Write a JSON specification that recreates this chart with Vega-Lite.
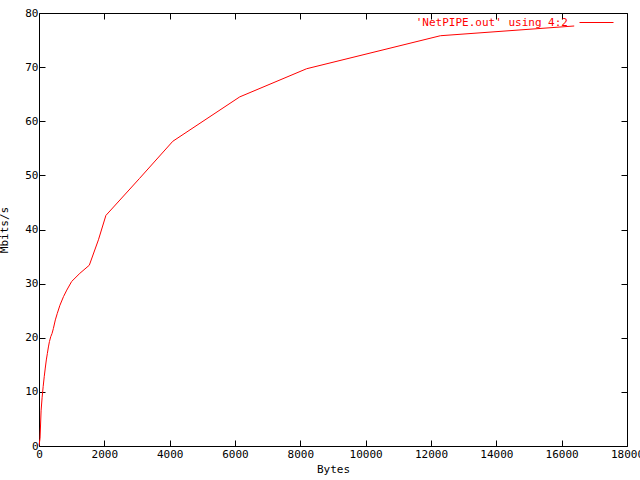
{
  "$schema": "https://vega.github.io/schema/vega-lite/v6.json",
  "width": 588,
  "height": 433,
  "autosize": {"type": "none"},
  "padding": {"left": 39, "top": 13, "right": 13, "bottom": 34},
  "background": "white",
  "config": {
    "view": {"stroke": "black", "strokeWidth": 1},
    "font": "DejaVu Sans Mono",
    "axis": {
      "domain": false,
      "grid": false,
      "tickColor": "black",
      "tickSize": -6,
      "tickWidth": 1,
      "labelColor": "black",
      "labelFont": "DejaVu Sans Mono",
      "labelFontSize": 11,
      "titleFont": "DejaVu Sans Mono",
      "titleFontSize": 11,
      "titleFontWeight": "normal",
      "titleColor": "black"
    }
  },
  "data": {
    "values": [
      {"bytes": 1, "mbps": 0.1},
      {"bytes": 32, "mbps": 1.4},
      {"bytes": 64, "mbps": 6.5},
      {"bytes": 96, "mbps": 9.0},
      {"bytes": 128, "mbps": 11.0},
      {"bytes": 160, "mbps": 12.8},
      {"bytes": 192, "mbps": 14.4},
      {"bytes": 224, "mbps": 15.9},
      {"bytes": 256, "mbps": 17.1},
      {"bytes": 288, "mbps": 18.3},
      {"bytes": 320, "mbps": 19.3},
      {"bytes": 360, "mbps": 20.2},
      {"bytes": 400, "mbps": 20.8},
      {"bytes": 440, "mbps": 21.7},
      {"bytes": 500, "mbps": 23.3},
      {"bytes": 560, "mbps": 24.5},
      {"bytes": 640, "mbps": 26.0},
      {"bytes": 750, "mbps": 27.6},
      {"bytes": 850, "mbps": 28.8},
      {"bytes": 1000, "mbps": 30.4},
      {"bytes": 1250, "mbps": 31.9},
      {"bytes": 1540, "mbps": 33.4},
      {"bytes": 1820, "mbps": 38.1},
      {"bytes": 2048, "mbps": 42.6},
      {"bytes": 3072, "mbps": 49.4},
      {"bytes": 4096, "mbps": 56.3},
      {"bytes": 6144, "mbps": 64.5},
      {"bytes": 8192, "mbps": 69.7},
      {"bytes": 12288, "mbps": 75.8},
      {"bytes": 16384, "mbps": 77.6}
    ]
  },
  "layer": [
    {
      "mark": {"type": "line", "strokeWidth": 1, "interpolate": "linear"},
      "encoding": {
        "x": {
          "field": "bytes", "type": "quantitative",
          "scale": {"domain": [0, 18000], "nice": false, "zero": false},
          "axis": {"values": [0, 2000, 4000, 6000, 8000, 10000, 12000, 14000, 16000, 18000], "format": "d", "title": "Bytes", "labelPadding": 8, "titlePadding": 4, "labelFlush": false, "labelOverlap": false}
        },
        "y": {
          "field": "mbps", "type": "quantitative",
          "scale": {"domain": [0, 80], "nice": false, "zero": false},
          "axis": {"values": [0, 10, 20, 30, 40, 50, 60, 70, 80], "format": "d", "title": "Mbits/s", "labelPadding": 7, "titleX": -30, "labelFlush": false, "labelOverlap": false}
        },
        "color": {
          "datum": "'NetPIPE.out' using 4:2", "type": "nominal",
          "scale": {"range": ["#ff0000"]},
          "legend": {
            "title": null, "orient": "none", "legendX": 540, "legendY": -8,
            "padding": 0, "symbolType": "stroke", "symbolSize": 1156, "symbolStrokeWidth": 1,
            "labelAlign": "right", "labelOffset": -46, "labelColor": "#ff0000",
            "labelFont": "DejaVu Sans Mono", "labelFontSize": 11, "labelLimit": 400
          }
        }
      }
    },
    {
      "mark": {"type": "line", "opacity": 0},
      "encoding": {
        "x": {"field": "bytes", "type": "quantitative", "axis": {"orient": "top", "values": [0, 2000, 4000, 6000, 8000, 10000, 12000, 14000, 16000, 18000], "labels": false, "title": null}},
        "y": {"field": "mbps", "type": "quantitative", "axis": {"orient": "right", "values": [0, 10, 20, 30, 40, 50, 60, 70, 80], "labels": false, "title": null}}
      }
    }
  ],
  "resolve": {"axis": {"x": "independent", "y": "independent"}}
}
